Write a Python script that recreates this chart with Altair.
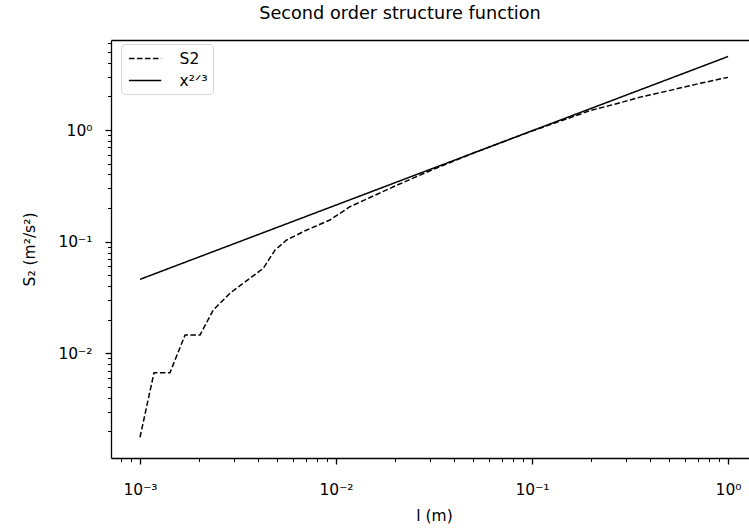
import altair as alt
import pandas as pd

# ---- data ----
s2_l = [0.001, 0.001179, 0.001422, 0.001698, 0.002024, 0.002366, 0.002877,
        0.003365, 0.004256, 0.004887, 0.0056, 0.007092, 0.009313, 0.01178,
        0.015, 0.02, 0.03, 0.05, 0.1, 0.2, 0.27, 0.356, 0.526, 0.72, 1.0]
s2_v = [0.001774, 0.00672, 0.00672, 0.01462, 0.01462, 0.02447, 0.03451,
        0.04246, 0.05781, 0.0843, 0.1036, 0.1273, 0.1564, 0.2057,
        0.25, 0.315, 0.43, 0.62, 0.98, 1.5, 1.72, 1.97, 2.3, 2.62, 2.96]
fit_l = [0.001, 1.0]
fit_v = [0.046, 4.55]
series_names = ["S2", "x²ᐟ³"]

x_major = [0.001, 0.01, 0.1, 1.0]
x_minor = [0.0008, 0.0009] + [k * 10.0 ** e for e in (-3, -2, -1) for k in range(2, 10)]
y_major = [0.01, 0.1, 1.0]
y_minor = [k * 10.0 ** e for e in (-3, -2, -1) for k in range(2, 10)] + [2.0, 3.0, 4.0, 5.0, 6.0]
y_minor = [v for v in y_minor if v > 0.00116]

x_domain = [10 ** -3.148, 10 ** 0.107]
y_domain = [10 ** -2.937, 10 ** 0.806]

df = pd.DataFrame({
    "l": s2_l + fit_l,
    "S": s2_v + fit_v,
    "series": [series_names[0]] * len(s2_l) + [series_names[1]] * len(fit_l),
})

FONT = "DejaVu Sans"
FS = 15.5

xscale = alt.Scale(type="log", domain=x_domain, nice=False)
yscale = alt.Scale(type="log", domain=y_domain, nice=False)

x_label_expr = ("datum.value < 0.005 ? '10⁻³' : datum.value < 0.05 ? '10⁻²' : "
                "datum.value < 0.5 ? '10⁻¹' : '10⁰'")
y_label_expr = ("datum.value < 0.05 ? '10⁻²' : datum.value < 0.5 ? '10⁻¹' : '10⁰'")

major_x = alt.Axis(
    orient="bottom", values=x_major, labelExpr=x_label_expr, grid=False,
    tickSize=6, tickWidth=1.3, tickColor="black",
    domainColor="black", domainWidth=1.3,
    labelFont=FONT, labelFontSize=FS, labelColor="black", labelPadding=18,
    labelOverlap=False, labelFlush=False,
    title="l (m)", titleFont=FONT, titleFontSize=FS, titleFontWeight="normal",
    titleColor="black", titleX=323, titleY=62, titleBaseline="alphabetic", titleAlign="center",
)
major_y = alt.Axis(
    orient="left", values=y_major, labelExpr=y_label_expr, grid=False,
    tickSize=6, tickWidth=1.3, tickColor="black",
    domainColor="black", domainWidth=1.3,
    labelFont=FONT, labelFontSize=FS, labelColor="black", labelPadding=13,
    labelOverlap=False, labelFlush=False, labelBaseline="middle",
    title="S₂ (m²/s²)", titleFont=FONT, titleFontSize=FS, titleFontWeight="normal",
    titleColor="black", titleX=-82, titleY=209, titleAngle=270,
    titleBaseline="middle", titleAlign="center",
)
minor_x = alt.Axis(orient="bottom", values=x_minor, labels=False, domain=False, grid=False,
                   tickSize=3.5, tickWidth=1.0, tickColor="black", title=None)
minor_y = alt.Axis(orient="left", values=y_minor, labels=False, domain=False, grid=False,
                   tickSize=3.5, tickWidth=1.0, tickColor="black", title=None)
top_x = alt.Axis(orient="top", labels=False, ticks=False, grid=False, domain=True,
                 domainColor="black", domainWidth=1.3, title=None)

base = alt.Chart(df)

lines = base.mark_line(color="black", strokeWidth=1.5).encode(
    x=alt.X("l:Q", scale=xscale, axis=major_x),
    y=alt.Y("S:Q", scale=yscale, axis=major_y),
    strokeDash=alt.StrokeDash(
        "series:N",
        scale=alt.Scale(domain=series_names, range=[[5.5, 2.5], [1, 0]]),
        legend=alt.Legend(
            title=None, orient="none", legendX=10, legendY=4, padding=5,
            strokeColor="#d6d6d6", fillColor="white", cornerRadius=4,
            symbolType="M-1.9,0H1.9", symbolSize=289, symbolStrokeWidth=1.5,
            symbolOffset=9.6, symbolStrokeColor="black",
            labelFont=FONT, labelFontSize=FS,
            labelColor="black", labelOffset=25, rowPadding=4,
        ),
    ),
    order=alt.Order("l:Q"),
)

minor = base.mark_line(opacity=0).encode(
    x=alt.X("l:Q", scale=xscale, axis=minor_x),
    y=alt.Y("S:Q", scale=yscale, axis=minor_y),
)

top = base.mark_line(opacity=0).encode(
    x=alt.X("l:Q", scale=xscale, axis=top_x),
    y=alt.Y("S:Q", scale=yscale, axis=None),
)

chart = alt.layer(lines, minor, top).resolve_axis(
    x="independent", y="independent"
).properties(
    width=638, height=418,
    padding={"left": 111, "top": 40, "right": 0, "bottom": 70},
    autosize=alt.AutoSizeParams(type="none"),
    title=alt.Title("Second order structure function", font=FONT, fontSize=17.7,
                    fontWeight="normal", color="black", anchor="middle", frame="group",
                    dx=-30, dy=10, offset=13, baseline="alphabetic"),
).configure_view(strokeWidth=0)

chart.save("out.html", embed_options={"renderer": "svg", "actions": False})
